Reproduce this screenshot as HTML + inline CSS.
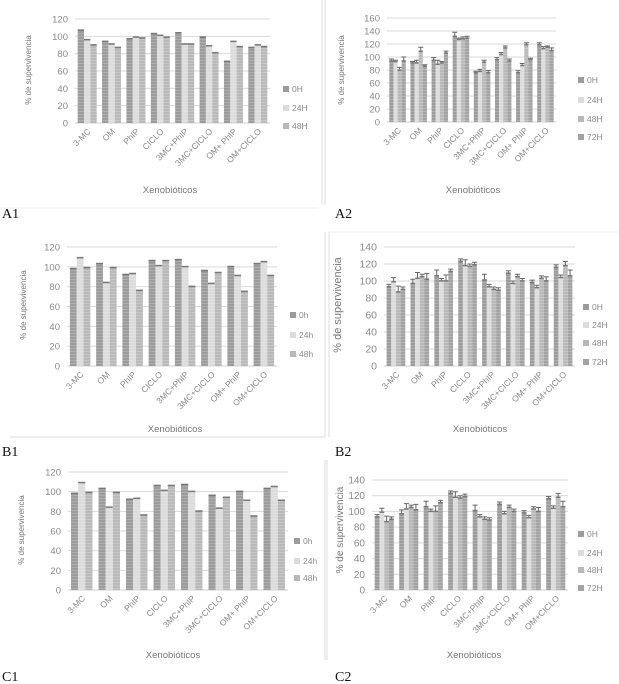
<!DOCTYPE html>
<html><head><meta charset="utf-8"><style>
html,body{margin:0;padding:0;background:#fff;}
svg{display:block;font-family:"Liberation Sans",sans-serif;}
</style></head><body>
<svg id="fig" width="619" height="684" viewBox="0 0 619 684">
<defs>
<pattern id="stripe" width="4" height="3" patternUnits="userSpaceOnUse"><rect width="4" height="1" fill="#fff" fill-opacity="0.18"/></pattern>
</defs>
<g stroke="#ddd" fill="none">
<line x1="322" y1="0" x2="322" y2="205"/><line x1="325" y1="0" x2="325" y2="205"/>
<line x1="0" y1="208" x2="318" y2="208" stroke="#eee"/>
<line x1="325" y1="232" x2="325" y2="437"/><line x1="10" y1="437" x2="325" y2="437"/>
<line x1="329" y1="232" x2="329" y2="437"/><line x1="329" y1="232" x2="619" y2="232" stroke="#eee"/>
<line x1="325" y1="460" x2="325" y2="660"/><line x1="327" y1="460" x2="327" y2="660"/>
</g>
</svg>
<script>
const categories=["3-MC","OM","PhIP","CICLO","3MC+PhIP","3MC+CICLO","OM+ PhIP","OM+CICLO"];
const a1_0h=[108,95,98,104,105,100,72,88];
const a1_24h=[97,92,100,102,92,90,95,91];
const a1_48h=[91,88,99,100,92,82,89,89];
const a2_0h=[95,92,96,133,77,97,77,120];
const a2_24h=[94,92,90,128,79,105,88,114];
const a2_48h=[81,110,92,129,93,115,120,116];
const a2_72h=[95,87,107,130,77,95,97,111];
const a2_err=[2,1,3,5,1,2,2,2];
const b1_0h=[99,104,93,107,108,97,101,104];
const b1_24h=[110,85,94,102,101,84,92,106];
const b1_48h=[100,100,77,107,81,95,76,92];
const b2_0h=[94,98,107,124,102,110,99,117];
const b2_24h=[100,104,101,119,94,98,93,105];
const b2_48h=[88,106,101,118,91,106,104,119];
const b2_72h=[91,103,112,120,90,101,101,107];
const b2_err=[2,4,6,2,6,2,2,2];
const ticks120=[0,20,40,60,80,100,120];
const ticks140=[0,20,40,60,80,100,120,140];
const ticks160=[0,20,40,60,80,100,120,140,160];
const legend3H=["0H","24H","48H"];
const legend3h=["0h","24h","48h"];
const legend4H=["0H","24H","48H","72H"];
const colors=["#9c9c9c","#dcdcdc","#b9b9b9","#a3a3a3"];

const NS="http://www.w3.org/2000/svg";
const svg=document.getElementById('fig');
function mk(tag,attrs,parent){const e=document.createElementNS(NS,tag);for(const k in attrs)e.setAttribute(k,attrs[k]);parent.appendChild(e);return e;}

function panel(cfg){
  const g=mk('g',{},svg);
  
  
  const ymax=cfg.ticks[cfg.ticks.length-1];
  const yS=v=>cfg.y0-(v/ymax)*(cfg.y0-cfg.top);
  const n=categories.length, gw=(cfg.right-cfg.left)/n;
  const xS=i=>cfg.left+gw*i;
  cfg.ticks.forEach(t=>{
    const l=mk('line',{x1:cfg.left,x2:cfg.right,y1:yS(t),y2:yS(t),stroke:t===0?'#d0d0d0':'#d9d9d9','stroke-width':1},g);
    
    
    const tx=mk('text',{x:cfg.left-7,y:yS(t)+3.5,'text-anchor':'end','font-size':cfg.tf||9.5,fill:'#8a8a8a'},g);
    tx.textContent=t;
    
    
  });
  const ns=cfg.series.length, bw=gw*0.78/ns;
  categories.forEach((c,i)=>{
    const gx=xS(i)+gw*0.11;
    cfg.series.forEach((s,j)=>{
      const v=s[i], x=gx+j*bw, y=yS(v);
      const r=mk('rect',{x:x,y:y,width:bw,height:cfg.y0-y,fill:colors[j]},g);
      
      
      const p=mk('rect',{x:x,y:y,width:bw,height:cfg.y0-y,fill:'url(#stripe)'},g);
      
      
      const cap=mk('rect',{x:x,y:y,width:bw,height:1.5,fill:'#777'},g);
      
      
      if(cfg.err){
        const e=cfg.err[(i+j)%n], ye=yS(v+e), cx=x+bw/2;
        const el=mk('path',{d:`M${cx},${y} V${ye} M${cx-2.5},${ye} H${cx+2.5}`,stroke:'#666','stroke-width':1,fill:'none'},g);
        
        
      }
    });
    const lx=xS(i)+gw*0.5+4, ly=cfg.y0+9;
    const t=mk('text',{x:lx,y:ly,'text-anchor':'end','font-size':8.5,fill:'#8a8a8a',transform:`rotate(-45 ${lx} ${ly})`},g);
    t.textContent=c;
    
    
  });
  cfg.legend.forEach((lab,j)=>{
    const y=cfg.legY[j];
    const r=mk('rect',{x:cfg.legX,y:y-6,width:6,height:6,fill:colors[j]},g);
    
    
    const t=mk('text',{x:cfg.legX+9,y:y,'font-size':8.5,fill:'#8a8a8a'},g);
    t.textContent=lab;
    
    
  });
  const yt=mk('text',{x:cfg.ytx,y:cfg.yty,'text-anchor':'middle','font-size':cfg.ytf||8,fill:'#777',transform:`rotate(-90 ${cfg.ytx} ${cfg.yty})`},g);
  yt.textContent='% de supervivencia';
  
  
  const xt=mk('text',{x:cfg.xtx,y:cfg.xty,'text-anchor':'middle','font-size':9.5,fill:'#777'},g);
  xt.textContent='Xenobióticos';
  
  
  const pl=mk('text',{x:cfg.lx,y:cfg.ly,'font-size':14,fill:'#111','font-family':'Liberation Serif, serif'},g);
  pl.textContent=cfg.label;
  
  
}

panel({name:'chart-a1',label:'A1',lx:2,ly:218,left:75,right:270,top:19,y0:123,ticks:ticks120,series:[a1_0h,a1_24h,a1_48h],legend:legend3H,legX:283,legY:92,legY:[92,111,129],ytx:31,yty:70,xtx:170,xty:193});
panel({name:'chart-a2',label:'A2',lx:335,ly:218,left:387,right:556,top:18,y0:122,ticks:ticks160,series:[a2_0h,a2_24h,a2_48h,a2_72h],err:a2_err,legend:legend4H,legX:578,legY:[83,103,122,140],ytx:344,yty:70,xtx:473,xty:193});
panel({name:'chart-b1',label:'B1',lx:2,ly:456,left:67,right:277,top:247,y0:366,ticks:ticks120,series:[b1_0h,b1_24h,b1_48h],legend:legend3h,legX:290,legY:[318,338,357],ytx:26,yty:305,xtx:175,xty:432});
panel({name:'chart-b2',label:'B2',lx:335,ly:456,left:384,right:575,top:247,y0:366,ticks:ticks140,series:[b2_0h,b2_24h,b2_48h,b2_72h],err:b2_err,legend:legend4H,legX:583,legY:[310,328,346,365],ytx:341,yty:305,ytf:11,tf:10.5,xtx:480,xty:432});
panel({name:'chart-c1',label:'C1',lx:2,ly:681,left:68,right:288,top:472,y0:590,ticks:ticks120,series:[b1_0h,b1_24h,b1_48h],legend:legend3h,legX:294,legY:[544,564,581],ytx:24,yty:530,xtx:173,xty:658});
panel({name:'chart-c2',label:'C2',lx:335,ly:681,left:372,right:568,top:480,y0:590,ticks:ticks140,series:[b2_0h,b2_24h,b2_48h,b2_72h],err:b2_err,legend:legend4H,legX:578,legY:[537,556,573,591],ytx:343,yty:530,ytf:10,tf:10,xtx:474,xty:658});
</script>
</body></html>
